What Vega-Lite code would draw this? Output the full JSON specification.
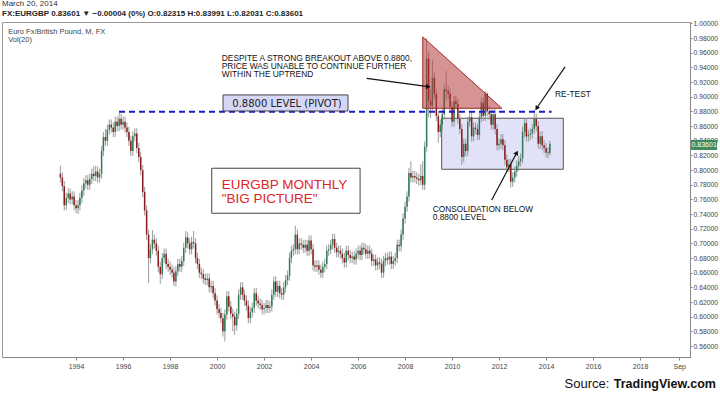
{
  "$schema": "https://vega.github.io/schema/vega-lite/v6.json",
  "width": 688,
  "height": 335,
  "autosize": {"type": "none"},
  "padding": {"left": 2, "top": 22, "right": 30, "bottom": 40},
  "background": "white",
  "config": {
    "view": {"stroke": "#9a9a9a"},
    "font": "Liberation Sans",
    "axis": {"labelOverlap": false, "grid": false, "labelFont": "Liberation Sans", "labelColor": "#444444", "domainColor": "#888888", "tickColor": "#888888"},
    "axisY": {"labelOverlap": false, "labelFontSize": 6.8, "tickSize": 2, "labelPadding": 1},
    "axisX": {"labelFontSize": 7, "tickSize": 3, "labelPadding": 2}
  },
  "title": {
    "text": "March 20, 2014",
    "subtitle": "FX:EURGBP  0.83601 ▼ −0.00004 (0%)  O:0.82315  H:0.83991  L:0.82031  C:0.83601",
    "anchor": "start",
    "fontSize": 8,
    "fontWeight": "normal",
    "color": "#333",
    "subtitleFontSize": 8,
    "subtitleFontWeight": "bold",
    "subtitleColor": "#222",
    "subtitlePadding": 2,
    "offset": 2
  },
  "layer": [
    {
      "data": {"values": [{"t": "2009-07-23", "t2": "2014-09-26", "v": 0.8707, "v2": 0.8011}], "format": {"parse": {"t": "date", "t2": "date"}}},
      "mark": {"type": "rect", "fill": "#c9c9f2", "fillOpacity": 0.55, "stroke": "#555555", "strokeWidth": 1},
      "encoding": {
        "x": {"field": "t", "type": "temporal", "scale": {"type": "utc", "domain": [{"year": 1990, "month": 11, "date": 6, "utc": true}, {"year": 2020, "month": 2, "date": 16, "utc": true}], "nice": false},
          "axis": {"values": [{"year": 1994, "utc": true}, {"year": 1996, "utc": true}, {"year": 1998, "utc": true}, {"year": 2000, "utc": true}, {"year": 2002, "utc": true}, {"year": 2004, "utc": true}, {"year": 2006, "utc": true}, {"year": 2008, "utc": true}, {"year": 2010, "utc": true}, {"year": 2012, "utc": true}, {"year": 2014, "utc": true}, {"year": 2016, "utc": true}, {"year": 2018, "utc": true}, {"year": 2019, "month": 9, "utc": true}],
            "labelExpr": "utcmonth(datum.value) == 8 ? 'Sep' : utcFormat(datum.value, '%Y')",
            "tickCount": 30, "labelOverlap": false, "title": null}},
        "x2": {"field": "t2"},
        "y": {"field": "v", "type": "quantitative", "scale": {"domain": [0.545, 1.002], "nice": false, "zero": false},
          "axis": {"orient": "right", "values": [0.56, 0.58, 0.6, 0.62, 0.64, 0.66, 0.68, 0.7, 0.72, 0.74, 0.76, 0.78, 0.8, 0.82, 0.84, 0.86, 0.88, 0.9, 0.92, 0.94, 0.96, 0.98, 1.0], "tickCount": 30, "labelExpr": "format(datum.value, '.5f')", "labelOverlap": false, "title": null}},
        "y2": {"field": "v2"}
      }
    },
    {
      "data": {"name": "candles"},
      "mark": {"type": "rule", "color": "#8f8f8f", "strokeWidth": 0.9},
      "encoding": {
        "x": {"field": "t", "type": "temporal", "scale": {"type": "utc", "domain": [{"year": 1990, "month": 11, "date": 6, "utc": true}, {"year": 2020, "month": 2, "date": 16, "utc": true}], "nice": false}, "axis": {"title": null}},
        "y": {"field": "l", "type": "quantitative", "scale": {"domain": [0.545, 1.002], "nice": false, "zero": false}, "axis": {"title": null, "orient": "right"}},
        "y2": {"field": "h"}
      }
    },
    {
      "data": {"name": "candles"},
      "mark": {"type": "rule", "strokeWidth": 1.5},
      "encoding": {
        "x": {"field": "t", "type": "temporal", "scale": {"type": "utc", "domain": [{"year": 1990, "month": 11, "date": 6, "utc": true}, {"year": 2020, "month": 2, "date": 16, "utc": true}], "nice": false}, "axis": {"title": null}},
        "y": {"field": "o", "type": "quantitative", "scale": {"domain": [0.545, 1.002], "nice": false, "zero": false}, "axis": {"title": null, "orient": "right"}},
        "y2": {"field": "c"},
        "color": {"condition": {"test": "datum.c >= datum.o", "value": "#2e7d57"}, "value": "#8e1b1b"}
      }
    },
    {
      "data": {"values": [{"t": "2008-10-02", "v": 0.9816, "v2": 0.8843}, {"t": "2012-02-12", "v": 0.8843, "v2": 0.8843}], "format": {"parse": {"t": "date"}}},
      "mark": {"type": "area", "fill": "#b33a3a", "fillOpacity": 0.55, "stroke": "#a02828", "strokeWidth": 1},
      "encoding": {
        "x": {"field": "t", "type": "temporal", "scale": {"type": "utc", "domain": [{"year": 1990, "month": 11, "date": 6, "utc": true}, {"year": 2020, "month": 2, "date": 16, "utc": true}], "nice": false}, "axis": {"title": null}},
        "y": {"field": "v", "type": "quantitative", "scale": {"domain": [0.545, 1.002], "nice": false, "zero": false}, "axis": {"title": null, "orient": "right"}},
        "y2": {"field": "v2"}
      }
    },
    {
      "data": {"values": [{"t": "1995-10-30", "t2": "2014-03-28", "v": 0.8795}], "format": {"parse": {"t": "date", "t2": "date"}}},
      "mark": {"type": "rule", "color": "#1a1acd", "strokeWidth": 2, "strokeDash": [6, 4]},
      "encoding": {
        "x": {"field": "t", "type": "temporal", "scale": {"type": "utc", "domain": [{"year": 1990, "month": 11, "date": 6, "utc": true}, {"year": 2020, "month": 2, "date": 16, "utc": true}], "nice": false}, "axis": {"title": null}},
        "x2": {"field": "t2"},
        "y": {"field": "v", "type": "quantitative", "scale": {"domain": [0.545, 1.002], "nice": false, "zero": false}, "axis": {"title": null, "orient": "right"}}
      }
    },
    {
      "data": {"values": [{"t": "2000-04-03", "t2": "2005-07-28", "v": 0.9025, "v2": 0.8806}, {"t": "1999-10-10", "t2": "2006-02-01", "v": 0.8025, "v2": 0.7411}], "format": {"parse": {"t": "date", "t2": "date"}}},
      "mark": {"type": "rect", "stroke": "#444444", "strokeWidth": 1},
      "encoding": {
        "x": {"field": "t", "type": "temporal", "scale": {"type": "utc", "domain": [{"year": 1990, "month": 11, "date": 6, "utc": true}, {"year": 2020, "month": 2, "date": 16, "utc": true}], "nice": false}, "axis": {"title": null}},
        "x2": {"field": "t2"},
        "y": {"field": "v", "type": "quantitative", "scale": {"domain": [0.545, 1.002], "nice": false, "zero": false}, "axis": {"title": null, "orient": "right"}},
        "y2": {"field": "v2"},
        "fill": {"condition": {"test": "datum.v > 0.85", "value": "#d6d6f7"}, "value": "#ffffff"}
      }
    },
    {
      "data": {"values": [{"t": "2006-05-15", "t2": "2008-12-28", "v": 0.9252, "v2": 0.9138}, {"t": "2014-10-23", "t2": "2013-08-07", "v": 0.9407, "v2": 0.8843}, {"t": "2011-09-09", "t2": "2012-10-02", "v": 0.7592, "v2": 0.8237}], "format": {"parse": {"t": "date", "t2": "date"}}},
      "mark": {"type": "rule", "color": "#111111", "strokeWidth": 1.2},
      "encoding": {
        "x": {"field": "t", "type": "temporal", "scale": {"type": "utc", "domain": [{"year": 1990, "month": 11, "date": 6, "utc": true}, {"year": 2020, "month": 2, "date": 16, "utc": true}], "nice": false}, "axis": {"title": null}},
        "x2": {"field": "t2"},
        "y": {"field": "v", "type": "quantitative", "scale": {"domain": [0.545, 1.002], "nice": false, "zero": false}, "axis": {"title": null, "orient": "right"}},
        "y2": {"field": "v2"}
      }
    },
    {
      "data": {"values": [{"t": "2008-12-28", "v": 0.9138}], "format": {"parse": {"t": "date"}}},
      "mark": {"type": "point", "shape": "triangle-right", "filled": true, "color": "#111111", "size": 28, "angle": 8, "opacity": 1},
      "encoding": {
        "x": {"field": "t", "type": "temporal", "scale": {"type": "utc", "domain": [{"year": 1990, "month": 11, "date": 6, "utc": true}, {"year": 2020, "month": 2, "date": 16, "utc": true}], "nice": false}, "axis": {"title": null}},
        "y": {"field": "v", "type": "quantitative", "scale": {"domain": [0.545, 1.002], "nice": false, "zero": false}, "axis": {"title": null, "orient": "right"}}
      }
    },
    {
      "data": {"values": [{"t": "2013-08-07", "v": 0.8843}], "format": {"parse": {"t": "date"}}},
      "mark": {"type": "point", "shape": "triangle-right", "filled": true, "color": "#111111", "size": 28, "angle": 124, "opacity": 1},
      "encoding": {
        "x": {"field": "t", "type": "temporal", "scale": {"type": "utc", "domain": [{"year": 1990, "month": 11, "date": 6, "utc": true}, {"year": 2020, "month": 2, "date": 16, "utc": true}], "nice": false}, "axis": {"title": null}},
        "y": {"field": "v", "type": "quantitative", "scale": {"domain": [0.545, 1.002], "nice": false, "zero": false}, "axis": {"title": null, "orient": "right"}}
      }
    },
    {
      "data": {"values": [{"t": "2012-10-02", "v": 0.8237}], "format": {"parse": {"t": "date"}}},
      "mark": {"type": "point", "shape": "triangle-right", "filled": true, "color": "#111111", "size": 28, "angle": 298, "opacity": 1},
      "encoding": {
        "x": {"field": "t", "type": "temporal", "scale": {"type": "utc", "domain": [{"year": 1990, "month": 11, "date": 6, "utc": true}, {"year": 2020, "month": 2, "date": 16, "utc": true}], "nice": false}, "axis": {"title": null}},
        "y": {"field": "v", "type": "quantitative", "scale": {"domain": [0.545, 1.002], "nice": false, "zero": false}, "axis": {"title": null, "orient": "right"}}
      }
    },
    {
      "data": {"values": [{"t": "2000-03-14", "v": 0.9488}], "format": {"parse": {"t": "date"}}},
      "mark": {"type": "text", "text": ["DESPITE A STRONG BREAKOUT ABOVE 0.8800,", "PRICE WAS UNABLE TO CONTINUE FURTHER", "WITHIN THE UPTREND"], "align": "left", "baseline": "alphabetic", "fontSize": 8.4, "lineHeight": 7.9, "color": "#111111", "font": "Liberation Sans"},
      "encoding": {
        "x": {"field": "t", "type": "temporal", "scale": {"type": "utc", "domain": [{"year": 1990, "month": 11, "date": 6, "utc": true}, {"year": 2020, "month": 2, "date": 16, "utc": true}], "nice": false}, "axis": {"title": null}},
        "y": {"field": "v", "type": "quantitative", "scale": {"domain": [0.545, 1.002], "nice": false, "zero": false}, "axis": {"title": null, "orient": "right"}}
      }
    },
    {
      "data": {"values": [{"t": "2000-08-25", "v": 0.8865}], "format": {"parse": {"t": "date"}}},
      "mark": {"type": "text", "text": "0.8800 LEVEL (PIVOT)", "align": "left", "baseline": "alphabetic", "fontSize": 10, "color": "#222222", "font": "DejaVu Sans"},
      "encoding": {
        "x": {"field": "t", "type": "temporal", "scale": {"type": "utc", "domain": [{"year": 1990, "month": 11, "date": 6, "utc": true}, {"year": 2020, "month": 2, "date": 16, "utc": true}], "nice": false}, "axis": {"title": null}},
        "y": {"field": "v", "type": "quantitative", "scale": {"domain": [0.545, 1.002], "nice": false, "zero": false}, "axis": {"title": null, "orient": "right"}}
      }
    },
    {
      "data": {"values": [{"t": "2000-03-14", "v": 0.7738}], "format": {"parse": {"t": "date"}}},
      "mark": {"type": "text", "text": ["EURGBP MONTHLY", "\"BIG PICTURE\""], "align": "left", "baseline": "alphabetic", "fontSize": 13.5, "lineHeight": 14, "color": "#e02424", "font": "Liberation Sans"},
      "encoding": {
        "x": {"field": "t", "type": "temporal", "scale": {"type": "utc", "domain": [{"year": 1990, "month": 11, "date": 6, "utc": true}, {"year": 2020, "month": 2, "date": 16, "utc": true}], "nice": false}, "axis": {"title": null}},
        "y": {"field": "v", "type": "quantitative", "scale": {"domain": [0.545, 1.002], "nice": false, "zero": false}, "axis": {"title": null, "orient": "right"}}
      }
    },
    {
      "data": {"values": [{"t": "2014-05-20", "v": 0.8997}], "format": {"parse": {"t": "date"}}},
      "mark": {"type": "text", "text": "RE-TEST", "align": "left", "baseline": "alphabetic", "fontSize": 8.4, "color": "#111111", "font": "Liberation Sans"},
      "encoding": {
        "x": {"field": "t", "type": "temporal", "scale": {"type": "utc", "domain": [{"year": 1990, "month": 11, "date": 6, "utc": true}, {"year": 2020, "month": 2, "date": 16, "utc": true}], "nice": false}, "axis": {"title": null}},
        "y": {"field": "v", "type": "quantitative", "scale": {"domain": [0.545, 1.002], "nice": false, "zero": false}, "axis": {"title": null, "orient": "right"}}
      }
    },
    {
      "data": {"values": [{"t": "2009-03-07", "v": 0.7428}], "format": {"parse": {"t": "date"}}},
      "mark": {"type": "text", "text": ["CONSOLIDATION BELOW", "0.8800 LEVEL"], "align": "left", "baseline": "alphabetic", "fontSize": 8.3, "lineHeight": 7.6, "color": "#111111", "font": "Liberation Sans"},
      "encoding": {
        "x": {"field": "t", "type": "temporal", "scale": {"type": "utc", "domain": [{"year": 1990, "month": 11, "date": 6, "utc": true}, {"year": 2020, "month": 2, "date": 16, "utc": true}], "nice": false}, "axis": {"title": null}},
        "y": {"field": "v", "type": "quantitative", "scale": {"domain": [0.545, 1.002], "nice": false, "zero": false}, "axis": {"title": null, "orient": "right"}}
      }
    },
    {
      "data": {"values": [{"t": "1991-02-10", "v": 0.9857}], "format": {"parse": {"t": "date"}}},
      "mark": {"type": "text", "text": ["Euro Fx/British Pound, M, FX", "Vol(20)"], "align": "left", "baseline": "alphabetic", "fontSize": 7.5, "lineHeight": 8.5, "color": "#444444", "font": "Liberation Sans"},
      "encoding": {
        "x": {"field": "t", "type": "temporal", "scale": {"type": "utc", "domain": [{"year": 1990, "month": 11, "date": 6, "utc": true}, {"year": 2020, "month": 2, "date": 16, "utc": true}], "nice": false}, "axis": {"title": null}},
        "y": {"field": "v", "type": "quantitative", "scale": {"domain": [0.545, 1.002], "nice": false, "zero": false}, "axis": {"title": null, "orient": "right"}}
      }
    },
    {
      "data": {"values": [{"t": "2020-03-03", "t2": "2021-04-12", "v": 0.8411, "v2": 0.8274}], "format": {"parse": {"t": "date", "t2": "date"}}},
      "mark": {"type": "rect", "fill": "#3d8b5e"},
      "encoding": {
        "x": {"field": "t", "type": "temporal", "scale": {"type": "utc", "domain": [{"year": 1990, "month": 11, "date": 6, "utc": true}, {"year": 2020, "month": 2, "date": 16, "utc": true}], "nice": false}, "axis": {"title": null}},
        "x2": {"field": "t2"},
        "y": {"field": "v", "type": "quantitative", "scale": {"domain": [0.545, 1.002], "nice": false, "zero": false}, "axis": {"title": null, "orient": "right"}},
        "y2": {"field": "v2"}
      }
    },
    {
      "data": {"values": [{"t": "2020-09-23", "v": 0.8342, "label": "0.83601"}], "format": {"parse": {"t": "date"}}},
      "mark": {"type": "text", "align": "center", "baseline": "middle", "fontSize": 7, "color": "#ffffff", "font": "Liberation Sans"},
      "encoding": {
        "x": {"field": "t", "type": "temporal", "scale": {"type": "utc", "domain": [{"year": 1990, "month": 11, "date": 6, "utc": true}, {"year": 2020, "month": 2, "date": 16, "utc": true}], "nice": false}, "axis": {"title": null}},
        "y": {"field": "v", "type": "quantitative", "scale": {"domain": [0.545, 1.002], "nice": false, "zero": false}, "axis": {"title": null, "orient": "right"}},
        "text": {"field": "label"}
      }
    },
    {
      "data": {"values": [{"t": "2016-09-10", "v": 0.5027}], "format": {"parse": {"t": "date"}}},
      "mark": {"type": "text", "text": "Source:", "align": "right", "baseline": "alphabetic", "fontSize": 13, "color": "#111111", "font": "Liberation Sans"},
      "encoding": {
        "x": {"field": "t", "type": "temporal", "scale": {"type": "utc", "domain": [{"year": 1990, "month": 11, "date": 6, "utc": true}, {"year": 2020, "month": 2, "date": 16, "utc": true}], "nice": false}, "axis": {"title": null}},
        "y": {"field": "v", "type": "quantitative", "scale": {"domain": [0.545, 1.002], "nice": false, "zero": false}, "axis": {"title": null, "orient": "right"}}
      }
    },
    {
      "data": {"values": [{"t": "2021-03-25", "v": 0.5027}], "format": {"parse": {"t": "date"}}},
      "mark": {"type": "text", "text": "TradingView.com", "align": "right", "baseline": "alphabetic", "fontSize": 12.5, "fontWeight": "bold", "color": "#111111", "font": "Liberation Sans"},
      "encoding": {
        "x": {"field": "t", "type": "temporal", "scale": {"type": "utc", "domain": [{"year": 1990, "month": 11, "date": 6, "utc": true}, {"year": 2020, "month": 2, "date": 16, "utc": true}], "nice": false}, "axis": {"title": null}},
        "y": {"field": "v", "type": "quantitative", "scale": {"domain": [0.545, 1.002], "nice": false, "zero": false}, "axis": {"title": null, "orient": "right"}}
      }
    }
  ],
  "datasets": {
    "candles": [
      {"t": "1993-05", "o": 0.795, "h": 0.806, "l": 0.783, "c": 0.790},
      {"t": "1993-06", "o": 0.790, "h": 0.797, "l": 0.771, "c": 0.778},
      {"t": "1993-07", "o": 0.778, "h": 0.785, "l": 0.745, "c": 0.752},
      {"t": "1993-08", "o": 0.752, "h": 0.769, "l": 0.745, "c": 0.762},
      {"t": "1993-09", "o": 0.762, "h": 0.775, "l": 0.755, "c": 0.768},
      {"t": "1993-10", "o": 0.768, "h": 0.775, "l": 0.753, "c": 0.760},
      {"t": "1993-11", "o": 0.760, "h": 0.771, "l": 0.753, "c": 0.764},
      {"t": "1993-12", "o": 0.764, "h": 0.771, "l": 0.745, "c": 0.752},
      {"t": "1994-01", "o": 0.752, "h": 0.759, "l": 0.741, "c": 0.748},
      {"t": "1994-02", "o": 0.748, "h": 0.759, "l": 0.740, "c": 0.752},
      {"t": "1994-03", "o": 0.752, "h": 0.769, "l": 0.745, "c": 0.762},
      {"t": "1994-04", "o": 0.762, "h": 0.779, "l": 0.755, "c": 0.772},
      {"t": "1994-05", "o": 0.772, "h": 0.789, "l": 0.765, "c": 0.782},
      {"t": "1994-06", "o": 0.782, "h": 0.793, "l": 0.775, "c": 0.786},
      {"t": "1994-07", "o": 0.786, "h": 0.793, "l": 0.773, "c": 0.780},
      {"t": "1994-08", "o": 0.780, "h": 0.795, "l": 0.773, "c": 0.788},
      {"t": "1994-09", "o": 0.788, "h": 0.802, "l": 0.781, "c": 0.795},
      {"t": "1994-10", "o": 0.795, "h": 0.805, "l": 0.785, "c": 0.792},
      {"t": "1994-11", "o": 0.792, "h": 0.806, "l": 0.785, "c": 0.798},
      {"t": "1994-12", "o": 0.798, "h": 0.805, "l": 0.783, "c": 0.790},
      {"t": "1995-01", "o": 0.790, "h": 0.802, "l": 0.783, "c": 0.795},
      {"t": "1995-02", "o": 0.795, "h": 0.833, "l": 0.788, "c": 0.826},
      {"t": "1995-03", "o": 0.826, "h": 0.852, "l": 0.819, "c": 0.845},
      {"t": "1995-04", "o": 0.845, "h": 0.856, "l": 0.833, "c": 0.840},
      {"t": "1995-05", "o": 0.840, "h": 0.862, "l": 0.833, "c": 0.855},
      {"t": "1995-06", "o": 0.855, "h": 0.869, "l": 0.848, "c": 0.862},
      {"t": "1995-07", "o": 0.862, "h": 0.869, "l": 0.851, "c": 0.858},
      {"t": "1995-08", "o": 0.858, "h": 0.865, "l": 0.845, "c": 0.852},
      {"t": "1995-09", "o": 0.852, "h": 0.873, "l": 0.845, "c": 0.866},
      {"t": "1995-10", "o": 0.866, "h": 0.873, "l": 0.853, "c": 0.860},
      {"t": "1995-11", "o": 0.860, "h": 0.878, "l": 0.853, "c": 0.870},
      {"t": "1995-12", "o": 0.870, "h": 0.877, "l": 0.855, "c": 0.862},
      {"t": "1996-01", "o": 0.862, "h": 0.873, "l": 0.855, "c": 0.866},
      {"t": "1996-02", "o": 0.866, "h": 0.873, "l": 0.851, "c": 0.858},
      {"t": "1996-03", "o": 0.858, "h": 0.865, "l": 0.845, "c": 0.852},
      {"t": "1996-04", "o": 0.852, "h": 0.859, "l": 0.833, "c": 0.840},
      {"t": "1996-05", "o": 0.840, "h": 0.847, "l": 0.819, "c": 0.826},
      {"t": "1996-06", "o": 0.826, "h": 0.853, "l": 0.819, "c": 0.846},
      {"t": "1996-07", "o": 0.846, "h": 0.857, "l": 0.839, "c": 0.850},
      {"t": "1996-08", "o": 0.850, "h": 0.857, "l": 0.823, "c": 0.830},
      {"t": "1996-09", "o": 0.830, "h": 0.837, "l": 0.811, "c": 0.818},
      {"t": "1996-10", "o": 0.818, "h": 0.825, "l": 0.793, "c": 0.800},
      {"t": "1996-11", "o": 0.800, "h": 0.807, "l": 0.763, "c": 0.770},
      {"t": "1996-12", "o": 0.770, "h": 0.777, "l": 0.738, "c": 0.745},
      {"t": "1997-01", "o": 0.745, "h": 0.752, "l": 0.705, "c": 0.712},
      {"t": "1997-02", "o": 0.712, "h": 0.719, "l": 0.646, "c": 0.680},
      {"t": "1997-03", "o": 0.680, "h": 0.699, "l": 0.673, "c": 0.692},
      {"t": "1997-04", "o": 0.692, "h": 0.718, "l": 0.685, "c": 0.705},
      {"t": "1997-05", "o": 0.705, "h": 0.712, "l": 0.693, "c": 0.700},
      {"t": "1997-06", "o": 0.700, "h": 0.707, "l": 0.683, "c": 0.690},
      {"t": "1997-07", "o": 0.690, "h": 0.697, "l": 0.661, "c": 0.668},
      {"t": "1997-08", "o": 0.668, "h": 0.675, "l": 0.645, "c": 0.658},
      {"t": "1997-09", "o": 0.658, "h": 0.687, "l": 0.651, "c": 0.680},
      {"t": "1997-10", "o": 0.680, "h": 0.693, "l": 0.673, "c": 0.686},
      {"t": "1997-11", "o": 0.686, "h": 0.693, "l": 0.665, "c": 0.672},
      {"t": "1997-12", "o": 0.672, "h": 0.679, "l": 0.661, "c": 0.668},
      {"t": "1998-01", "o": 0.668, "h": 0.675, "l": 0.657, "c": 0.664},
      {"t": "1998-02", "o": 0.664, "h": 0.671, "l": 0.653, "c": 0.660},
      {"t": "1998-03", "o": 0.660, "h": 0.667, "l": 0.642, "c": 0.648},
      {"t": "1998-04", "o": 0.648, "h": 0.669, "l": 0.641, "c": 0.662},
      {"t": "1998-05", "o": 0.662, "h": 0.679, "l": 0.655, "c": 0.672},
      {"t": "1998-06", "o": 0.672, "h": 0.679, "l": 0.661, "c": 0.668},
      {"t": "1998-07", "o": 0.668, "h": 0.683, "l": 0.661, "c": 0.676},
      {"t": "1998-08", "o": 0.676, "h": 0.701, "l": 0.669, "c": 0.694},
      {"t": "1998-09", "o": 0.694, "h": 0.717, "l": 0.687, "c": 0.708},
      {"t": "1998-10", "o": 0.708, "h": 0.715, "l": 0.693, "c": 0.700},
      {"t": "1998-11", "o": 0.700, "h": 0.707, "l": 0.685, "c": 0.692},
      {"t": "1998-12", "o": 0.692, "h": 0.709, "l": 0.685, "c": 0.702},
      {"t": "1999-01", "o": 0.702, "h": 0.717, "l": 0.693, "c": 0.700},
      {"t": "1999-02", "o": 0.700, "h": 0.707, "l": 0.673, "c": 0.680},
      {"t": "1999-03", "o": 0.680, "h": 0.687, "l": 0.665, "c": 0.672},
      {"t": "1999-04", "o": 0.672, "h": 0.679, "l": 0.653, "c": 0.660},
      {"t": "1999-05", "o": 0.660, "h": 0.667, "l": 0.651, "c": 0.658},
      {"t": "1999-06", "o": 0.658, "h": 0.665, "l": 0.645, "c": 0.652},
      {"t": "1999-07", "o": 0.652, "h": 0.659, "l": 0.643, "c": 0.650},
      {"t": "1999-08", "o": 0.650, "h": 0.659, "l": 0.643, "c": 0.652},
      {"t": "1999-09", "o": 0.652, "h": 0.659, "l": 0.633, "c": 0.640},
      {"t": "1999-10", "o": 0.640, "h": 0.649, "l": 0.633, "c": 0.642},
      {"t": "1999-11", "o": 0.642, "h": 0.649, "l": 0.625, "c": 0.632},
      {"t": "1999-12", "o": 0.632, "h": 0.639, "l": 0.615, "c": 0.622},
      {"t": "2000-01", "o": 0.622, "h": 0.629, "l": 0.603, "c": 0.610},
      {"t": "2000-02", "o": 0.610, "h": 0.617, "l": 0.598, "c": 0.605},
      {"t": "2000-03", "o": 0.605, "h": 0.612, "l": 0.591, "c": 0.598},
      {"t": "2000-04", "o": 0.598, "h": 0.605, "l": 0.573, "c": 0.580},
      {"t": "2000-05", "o": 0.580, "h": 0.610, "l": 0.566, "c": 0.603},
      {"t": "2000-06", "o": 0.603, "h": 0.635, "l": 0.596, "c": 0.628},
      {"t": "2000-07", "o": 0.628, "h": 0.635, "l": 0.607, "c": 0.614},
      {"t": "2000-08", "o": 0.614, "h": 0.621, "l": 0.597, "c": 0.604},
      {"t": "2000-09", "o": 0.604, "h": 0.611, "l": 0.580, "c": 0.600},
      {"t": "2000-10", "o": 0.600, "h": 0.607, "l": 0.575, "c": 0.588},
      {"t": "2000-11", "o": 0.588, "h": 0.611, "l": 0.581, "c": 0.604},
      {"t": "2000-12", "o": 0.604, "h": 0.637, "l": 0.597, "c": 0.630},
      {"t": "2001-01", "o": 0.630, "h": 0.647, "l": 0.623, "c": 0.640},
      {"t": "2001-02", "o": 0.640, "h": 0.647, "l": 0.623, "c": 0.630},
      {"t": "2001-03", "o": 0.630, "h": 0.637, "l": 0.615, "c": 0.622},
      {"t": "2001-04", "o": 0.622, "h": 0.629, "l": 0.608, "c": 0.615},
      {"t": "2001-05", "o": 0.615, "h": 0.622, "l": 0.591, "c": 0.598},
      {"t": "2001-06", "o": 0.598, "h": 0.613, "l": 0.591, "c": 0.606},
      {"t": "2001-07", "o": 0.606, "h": 0.619, "l": 0.599, "c": 0.612},
      {"t": "2001-08", "o": 0.612, "h": 0.639, "l": 0.605, "c": 0.632},
      {"t": "2001-09", "o": 0.632, "h": 0.639, "l": 0.615, "c": 0.622},
      {"t": "2001-10", "o": 0.622, "h": 0.629, "l": 0.611, "c": 0.618},
      {"t": "2001-11", "o": 0.618, "h": 0.625, "l": 0.609, "c": 0.616},
      {"t": "2001-12", "o": 0.616, "h": 0.623, "l": 0.603, "c": 0.610},
      {"t": "2002-01", "o": 0.610, "h": 0.619, "l": 0.603, "c": 0.612},
      {"t": "2002-02", "o": 0.612, "h": 0.623, "l": 0.605, "c": 0.616},
      {"t": "2002-03", "o": 0.616, "h": 0.623, "l": 0.605, "c": 0.612},
      {"t": "2002-04", "o": 0.612, "h": 0.621, "l": 0.605, "c": 0.614},
      {"t": "2002-05", "o": 0.614, "h": 0.637, "l": 0.607, "c": 0.630},
      {"t": "2002-06", "o": 0.630, "h": 0.655, "l": 0.623, "c": 0.648},
      {"t": "2002-07", "o": 0.648, "h": 0.655, "l": 0.627, "c": 0.634},
      {"t": "2002-08", "o": 0.634, "h": 0.649, "l": 0.627, "c": 0.642},
      {"t": "2002-09", "o": 0.642, "h": 0.649, "l": 0.625, "c": 0.632},
      {"t": "2002-10", "o": 0.632, "h": 0.639, "l": 0.623, "c": 0.630},
      {"t": "2002-11", "o": 0.630, "h": 0.647, "l": 0.623, "c": 0.640},
      {"t": "2002-12", "o": 0.640, "h": 0.657, "l": 0.633, "c": 0.650},
      {"t": "2003-01", "o": 0.650, "h": 0.663, "l": 0.643, "c": 0.656},
      {"t": "2003-02", "o": 0.656, "h": 0.687, "l": 0.649, "c": 0.680},
      {"t": "2003-03", "o": 0.680, "h": 0.697, "l": 0.673, "c": 0.690},
      {"t": "2003-04", "o": 0.690, "h": 0.699, "l": 0.683, "c": 0.692},
      {"t": "2003-05", "o": 0.692, "h": 0.724, "l": 0.685, "c": 0.712},
      {"t": "2003-06", "o": 0.712, "h": 0.719, "l": 0.685, "c": 0.692},
      {"t": "2003-07", "o": 0.692, "h": 0.707, "l": 0.685, "c": 0.700},
      {"t": "2003-08", "o": 0.700, "h": 0.707, "l": 0.691, "c": 0.698},
      {"t": "2003-09", "o": 0.698, "h": 0.705, "l": 0.687, "c": 0.694},
      {"t": "2003-10", "o": 0.694, "h": 0.705, "l": 0.687, "c": 0.698},
      {"t": "2003-11", "o": 0.698, "h": 0.705, "l": 0.683, "c": 0.690},
      {"t": "2003-12", "o": 0.690, "h": 0.711, "l": 0.683, "c": 0.704},
      {"t": "2004-01", "o": 0.704, "h": 0.711, "l": 0.685, "c": 0.692},
      {"t": "2004-02", "o": 0.692, "h": 0.699, "l": 0.663, "c": 0.670},
      {"t": "2004-03", "o": 0.670, "h": 0.677, "l": 0.661, "c": 0.668},
      {"t": "2004-04", "o": 0.668, "h": 0.677, "l": 0.661, "c": 0.670},
      {"t": "2004-05", "o": 0.670, "h": 0.677, "l": 0.657, "c": 0.664},
      {"t": "2004-06", "o": 0.664, "h": 0.671, "l": 0.653, "c": 0.660},
      {"t": "2004-07", "o": 0.660, "h": 0.675, "l": 0.653, "c": 0.668},
      {"t": "2004-08", "o": 0.668, "h": 0.679, "l": 0.661, "c": 0.672},
      {"t": "2004-09", "o": 0.672, "h": 0.697, "l": 0.665, "c": 0.690},
      {"t": "2004-10", "o": 0.690, "h": 0.699, "l": 0.683, "c": 0.692},
      {"t": "2004-11", "o": 0.692, "h": 0.705, "l": 0.685, "c": 0.698},
      {"t": "2004-12", "o": 0.698, "h": 0.713, "l": 0.691, "c": 0.706},
      {"t": "2005-01", "o": 0.706, "h": 0.713, "l": 0.687, "c": 0.694},
      {"t": "2005-02", "o": 0.694, "h": 0.701, "l": 0.681, "c": 0.688},
      {"t": "2005-03", "o": 0.688, "h": 0.697, "l": 0.681, "c": 0.690},
      {"t": "2005-04", "o": 0.690, "h": 0.697, "l": 0.679, "c": 0.686},
      {"t": "2005-05", "o": 0.686, "h": 0.693, "l": 0.673, "c": 0.680},
      {"t": "2005-06", "o": 0.680, "h": 0.687, "l": 0.667, "c": 0.674},
      {"t": "2005-07", "o": 0.674, "h": 0.697, "l": 0.667, "c": 0.690},
      {"t": "2005-08", "o": 0.690, "h": 0.697, "l": 0.677, "c": 0.684},
      {"t": "2005-09", "o": 0.684, "h": 0.691, "l": 0.673, "c": 0.680},
      {"t": "2005-10", "o": 0.680, "h": 0.689, "l": 0.673, "c": 0.682},
      {"t": "2005-11", "o": 0.682, "h": 0.689, "l": 0.671, "c": 0.678},
      {"t": "2005-12", "o": 0.678, "h": 0.693, "l": 0.671, "c": 0.686},
      {"t": "2006-01", "o": 0.686, "h": 0.697, "l": 0.679, "c": 0.690},
      {"t": "2006-02", "o": 0.690, "h": 0.697, "l": 0.677, "c": 0.684},
      {"t": "2006-03", "o": 0.684, "h": 0.701, "l": 0.677, "c": 0.694},
      {"t": "2006-04", "o": 0.694, "h": 0.701, "l": 0.685, "c": 0.692},
      {"t": "2006-05", "o": 0.692, "h": 0.699, "l": 0.679, "c": 0.686},
      {"t": "2006-06", "o": 0.686, "h": 0.697, "l": 0.679, "c": 0.690},
      {"t": "2006-07", "o": 0.690, "h": 0.697, "l": 0.679, "c": 0.686},
      {"t": "2006-08", "o": 0.686, "h": 0.693, "l": 0.669, "c": 0.676},
      {"t": "2006-09", "o": 0.676, "h": 0.685, "l": 0.669, "c": 0.678},
      {"t": "2006-10", "o": 0.678, "h": 0.685, "l": 0.663, "c": 0.670},
      {"t": "2006-11", "o": 0.670, "h": 0.681, "l": 0.663, "c": 0.674},
      {"t": "2006-12", "o": 0.674, "h": 0.681, "l": 0.665, "c": 0.672},
      {"t": "2007-01", "o": 0.672, "h": 0.679, "l": 0.653, "c": 0.660},
      {"t": "2007-02", "o": 0.660, "h": 0.683, "l": 0.653, "c": 0.676},
      {"t": "2007-03", "o": 0.676, "h": 0.687, "l": 0.669, "c": 0.680},
      {"t": "2007-04", "o": 0.680, "h": 0.687, "l": 0.671, "c": 0.678},
      {"t": "2007-05", "o": 0.678, "h": 0.689, "l": 0.671, "c": 0.682},
      {"t": "2007-06", "o": 0.682, "h": 0.689, "l": 0.665, "c": 0.672},
      {"t": "2007-07", "o": 0.672, "h": 0.683, "l": 0.665, "c": 0.676},
      {"t": "2007-08", "o": 0.676, "h": 0.687, "l": 0.669, "c": 0.680},
      {"t": "2007-09", "o": 0.680, "h": 0.705, "l": 0.673, "c": 0.698},
      {"t": "2007-10", "o": 0.698, "h": 0.705, "l": 0.689, "c": 0.696},
      {"t": "2007-11", "o": 0.696, "h": 0.719, "l": 0.689, "c": 0.712},
      {"t": "2007-12", "o": 0.712, "h": 0.741, "l": 0.705, "c": 0.734},
      {"t": "2008-01", "o": 0.734, "h": 0.757, "l": 0.727, "c": 0.750},
      {"t": "2008-02", "o": 0.750, "h": 0.771, "l": 0.743, "c": 0.764},
      {"t": "2008-03", "o": 0.764, "h": 0.803, "l": 0.757, "c": 0.796},
      {"t": "2008-04", "o": 0.796, "h": 0.812, "l": 0.783, "c": 0.790},
      {"t": "2008-05", "o": 0.790, "h": 0.799, "l": 0.783, "c": 0.792},
      {"t": "2008-06", "o": 0.792, "h": 0.799, "l": 0.783, "c": 0.790},
      {"t": "2008-07", "o": 0.790, "h": 0.797, "l": 0.781, "c": 0.788},
      {"t": "2008-08", "o": 0.788, "h": 0.795, "l": 0.779, "c": 0.786},
      {"t": "2008-09", "o": 0.786, "h": 0.808, "l": 0.779, "c": 0.792},
      {"t": "2008-10", "o": 0.792, "h": 0.812, "l": 0.773, "c": 0.780},
      {"t": "2008-11", "o": 0.780, "h": 0.839, "l": 0.773, "c": 0.832},
      {"t": "2008-12", "o": 0.832, "h": 0.980, "l": 0.825, "c": 0.952},
      {"t": "2009-01", "o": 0.952, "h": 0.962, "l": 0.872, "c": 0.894},
      {"t": "2009-02", "o": 0.894, "h": 0.910, "l": 0.871, "c": 0.888},
      {"t": "2009-03", "o": 0.888, "h": 0.950, "l": 0.881, "c": 0.926},
      {"t": "2009-04", "o": 0.926, "h": 0.933, "l": 0.897, "c": 0.904},
      {"t": "2009-05", "o": 0.904, "h": 0.911, "l": 0.867, "c": 0.874},
      {"t": "2009-06", "o": 0.874, "h": 0.881, "l": 0.837, "c": 0.852},
      {"t": "2009-07", "o": 0.852, "h": 0.869, "l": 0.845, "c": 0.862},
      {"t": "2009-08", "o": 0.862, "h": 0.883, "l": 0.855, "c": 0.876},
      {"t": "2009-09", "o": 0.876, "h": 0.917, "l": 0.869, "c": 0.910},
      {"t": "2009-10", "o": 0.910, "h": 0.935, "l": 0.895, "c": 0.908},
      {"t": "2009-11", "o": 0.908, "h": 0.915, "l": 0.897, "c": 0.904},
      {"t": "2009-12", "o": 0.904, "h": 0.911, "l": 0.879, "c": 0.886},
      {"t": "2010-01", "o": 0.886, "h": 0.893, "l": 0.859, "c": 0.866},
      {"t": "2010-02", "o": 0.866, "h": 0.901, "l": 0.859, "c": 0.894},
      {"t": "2010-03", "o": 0.894, "h": 0.901, "l": 0.883, "c": 0.890},
      {"t": "2010-04", "o": 0.890, "h": 0.897, "l": 0.863, "c": 0.870},
      {"t": "2010-05", "o": 0.870, "h": 0.877, "l": 0.849, "c": 0.856},
      {"t": "2010-06", "o": 0.856, "h": 0.863, "l": 0.807, "c": 0.818},
      {"t": "2010-07", "o": 0.818, "h": 0.843, "l": 0.811, "c": 0.836},
      {"t": "2010-08", "o": 0.836, "h": 0.843, "l": 0.819, "c": 0.826},
      {"t": "2010-09", "o": 0.826, "h": 0.873, "l": 0.819, "c": 0.866},
      {"t": "2010-10", "o": 0.866, "h": 0.879, "l": 0.859, "c": 0.872},
      {"t": "2010-11", "o": 0.872, "h": 0.879, "l": 0.839, "c": 0.846},
      {"t": "2010-12", "o": 0.846, "h": 0.865, "l": 0.839, "c": 0.858},
      {"t": "2011-01", "o": 0.858, "h": 0.865, "l": 0.849, "c": 0.856},
      {"t": "2011-02", "o": 0.856, "h": 0.863, "l": 0.841, "c": 0.848},
      {"t": "2011-03", "o": 0.848, "h": 0.879, "l": 0.841, "c": 0.872},
      {"t": "2011-04", "o": 0.872, "h": 0.899, "l": 0.865, "c": 0.892},
      {"t": "2011-05", "o": 0.892, "h": 0.899, "l": 0.867, "c": 0.874},
      {"t": "2011-06", "o": 0.874, "h": 0.908, "l": 0.867, "c": 0.904},
      {"t": "2011-07", "o": 0.904, "h": 0.906, "l": 0.873, "c": 0.880},
      {"t": "2011-08", "o": 0.880, "h": 0.887, "l": 0.869, "c": 0.876},
      {"t": "2011-09", "o": 0.876, "h": 0.883, "l": 0.855, "c": 0.862},
      {"t": "2011-10", "o": 0.862, "h": 0.883, "l": 0.855, "c": 0.876},
      {"t": "2011-11", "o": 0.876, "h": 0.883, "l": 0.849, "c": 0.856},
      {"t": "2011-12", "o": 0.856, "h": 0.863, "l": 0.827, "c": 0.834},
      {"t": "2012-01", "o": 0.834, "h": 0.843, "l": 0.827, "c": 0.836},
      {"t": "2012-02", "o": 0.836, "h": 0.849, "l": 0.829, "c": 0.842},
      {"t": "2012-03", "o": 0.842, "h": 0.849, "l": 0.827, "c": 0.834},
      {"t": "2012-04", "o": 0.834, "h": 0.841, "l": 0.807, "c": 0.814},
      {"t": "2012-05", "o": 0.814, "h": 0.821, "l": 0.797, "c": 0.804},
      {"t": "2012-06", "o": 0.804, "h": 0.815, "l": 0.797, "c": 0.808},
      {"t": "2012-07", "o": 0.808, "h": 0.815, "l": 0.776, "c": 0.784},
      {"t": "2012-08", "o": 0.784, "h": 0.797, "l": 0.777, "c": 0.790},
      {"t": "2012-09", "o": 0.790, "h": 0.805, "l": 0.783, "c": 0.798},
      {"t": "2012-10", "o": 0.798, "h": 0.813, "l": 0.791, "c": 0.806},
      {"t": "2012-11", "o": 0.806, "h": 0.819, "l": 0.799, "c": 0.812},
      {"t": "2012-12", "o": 0.812, "h": 0.823, "l": 0.805, "c": 0.816},
      {"t": "2013-01", "o": 0.816, "h": 0.859, "l": 0.809, "c": 0.852},
      {"t": "2013-02", "o": 0.852, "h": 0.871, "l": 0.845, "c": 0.864},
      {"t": "2013-03", "o": 0.864, "h": 0.871, "l": 0.839, "c": 0.846},
      {"t": "2013-04", "o": 0.846, "h": 0.855, "l": 0.839, "c": 0.848},
      {"t": "2013-05", "o": 0.848, "h": 0.857, "l": 0.841, "c": 0.850},
      {"t": "2013-06", "o": 0.850, "h": 0.863, "l": 0.843, "c": 0.856},
      {"t": "2013-07", "o": 0.856, "h": 0.882, "l": 0.849, "c": 0.870},
      {"t": "2013-08", "o": 0.870, "h": 0.877, "l": 0.853, "c": 0.860},
      {"t": "2013-09", "o": 0.860, "h": 0.867, "l": 0.829, "c": 0.836},
      {"t": "2013-10", "o": 0.836, "h": 0.853, "l": 0.829, "c": 0.846},
      {"t": "2013-11", "o": 0.846, "h": 0.853, "l": 0.827, "c": 0.834},
      {"t": "2013-12", "o": 0.834, "h": 0.841, "l": 0.823, "c": 0.830},
      {"t": "2014-01", "o": 0.830, "h": 0.837, "l": 0.817, "c": 0.824},
      {"t": "2014-02", "o": 0.824, "h": 0.831, "l": 0.816, "c": 0.823},
      {"t": "2014-03", "o": 0.82315, "h": 0.83991, "l": 0.82031, "c": 0.83601}
    ]
  }
}
